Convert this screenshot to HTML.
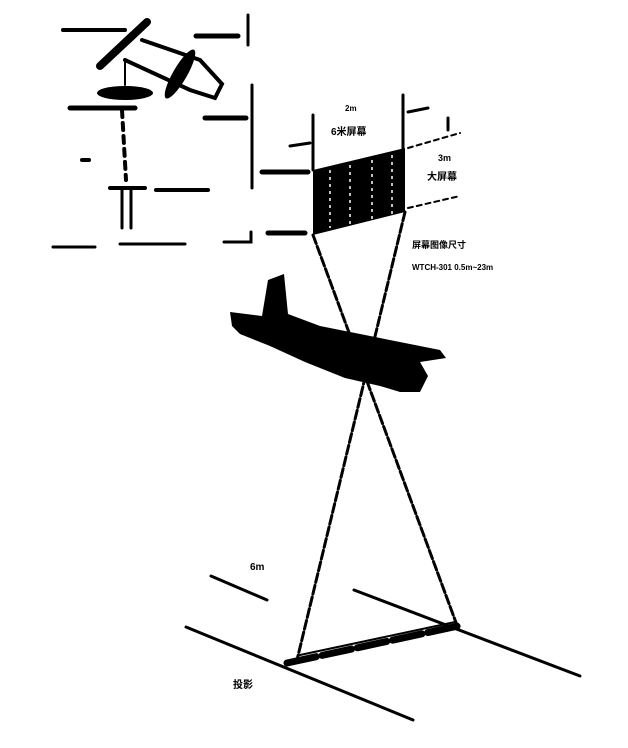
<!DOCTYPE html>
<html><head><style>
html,body{margin:0;padding:0;background:#fff;}
svg{display:block;}
text{font-family:"Liberation Sans","Noto Sans CJK SC",sans-serif;font-weight:bold;fill:#000;}
</style></head><body>
<svg width="628" height="748" viewBox="0 0 628 748" xmlns="http://www.w3.org/2000/svg">
<rect width="628" height="748" fill="#fff"/>
<g stroke="#000" fill="none" stroke-linecap="round">
<line x1="100" y1="66" x2="147" y2="22" stroke-width="8"/>
<line x1="63" y1="30" x2="125" y2="30" stroke-width="4"/>
<line x1="196" y1="36" x2="238" y2="36" stroke-width="5"/>
<line x1="248" y1="15" x2="248" y2="45" stroke-width="3"/>
<line x1="252" y1="85" x2="252" y2="188" stroke-width="3"/>
<line x1="125" y1="60" x2="125" y2="85" stroke-width="2"/>
<polyline points="142,40 200,60 222,84 215,98 190,90 125,60" stroke-width="4"/>
<line x1="70" y1="108" x2="135" y2="108" stroke-width="5"/>
<line x1="205" y1="118" x2="246" y2="118" stroke-width="5"/>
<line x1="122" y1="110" x2="126" y2="180" stroke-width="4" stroke-dasharray="7 6"/>
<line x1="110" y1="188" x2="145" y2="188" stroke-width="4"/>
<line x1="156" y1="190" x2="208" y2="190" stroke-width="4"/>
<line x1="82" y1="160" x2="89" y2="160" stroke-width="4"/>
<line x1="122" y1="188" x2="122" y2="228" stroke-width="3"/>
<line x1="131" y1="188" x2="131" y2="228" stroke-width="3"/>
<line x1="53" y1="247" x2="95" y2="247" stroke-width="3"/>
<line x1="120" y1="244" x2="185" y2="244" stroke-width="3"/>
<polyline points="224,242 251,242 251,232" stroke-width="3"/>
<line x1="313" y1="115" x2="313" y2="170" stroke-width="3"/>
<line x1="403" y1="95" x2="403" y2="150" stroke-width="3"/>
<line x1="290" y1="146" x2="310" y2="143" stroke-width="3"/>
<line x1="408" y1="112" x2="428" y2="108" stroke-width="3"/>
<line x1="262" y1="172" x2="308" y2="172" stroke-width="5"/>
<line x1="268" y1="233" x2="305" y2="233" stroke-width="5"/>
<line x1="408" y1="148" x2="460" y2="133" stroke-width="2" stroke-dasharray="5 4"/>
<line x1="408" y1="208" x2="460" y2="196" stroke-width="2" stroke-dasharray="5 4"/>
<line x1="448" y1="118" x2="448" y2="130" stroke-width="3"/>
<line x1="313" y1="235" x2="458" y2="628" stroke-width="3" stroke-dasharray="9 3"/>
<line x1="405" y1="212" x2="297" y2="660" stroke-width="3" stroke-dasharray="9 3"/>
<line x1="186" y1="627" x2="413" y2="720" stroke-width="3"/>
<line x1="354" y1="590" x2="580" y2="676" stroke-width="3"/>
<line x1="211" y1="576" x2="267" y2="600" stroke-width="3"/>
<line x1="287" y1="663" x2="458" y2="626" stroke-width="7" stroke-dasharray="30 6"/>
<line x1="300" y1="655" x2="455" y2="622" stroke-width="2"/>
</g>
<ellipse cx="125" cy="93" rx="28" ry="7" fill="#000"/>
<ellipse cx="180" cy="74" rx="7" ry="28" transform="rotate(30 180 74)" fill="#000"/>
<polygon points="313,170 405,148 405,212 313,235" fill="#000"/>
<g stroke="#fff" stroke-width="1.5" stroke-dasharray="3 4">
<line x1="330" y1="170" x2="330" y2="228"/><line x1="350" y1="165" x2="350" y2="225"/><line x1="372" y1="160" x2="372" y2="220"/><line x1="392" y1="155" x2="392" y2="215"/>
</g>
<path d="M230,312 L262,316 L268,280 L284,274 L288,314 L320,326 L440,350 L446,358 L420,362 L428,376 L420,392 L400,392 L380,386 L345,378 L305,362 L270,346 L240,334 L232,326 Z" fill="#000"/>
<text x="345" y="111" font-size="8">2m</text>
<text x="331" y="135" font-size="10">6米屏幕</text>
<text x="438" y="161" font-size="9">3m</text>
<text x="427" y="180" font-size="10">大屏幕</text>
<text x="412" y="248" font-size="9">屏幕图像尺寸</text>
<text x="412" y="270" font-size="8">WTCH-301 0.5m~23m</text>
<text x="250" y="570" font-size="10">6m</text>
<text x="233" y="688" font-size="10">投影</text>
</svg>
</body></html>
